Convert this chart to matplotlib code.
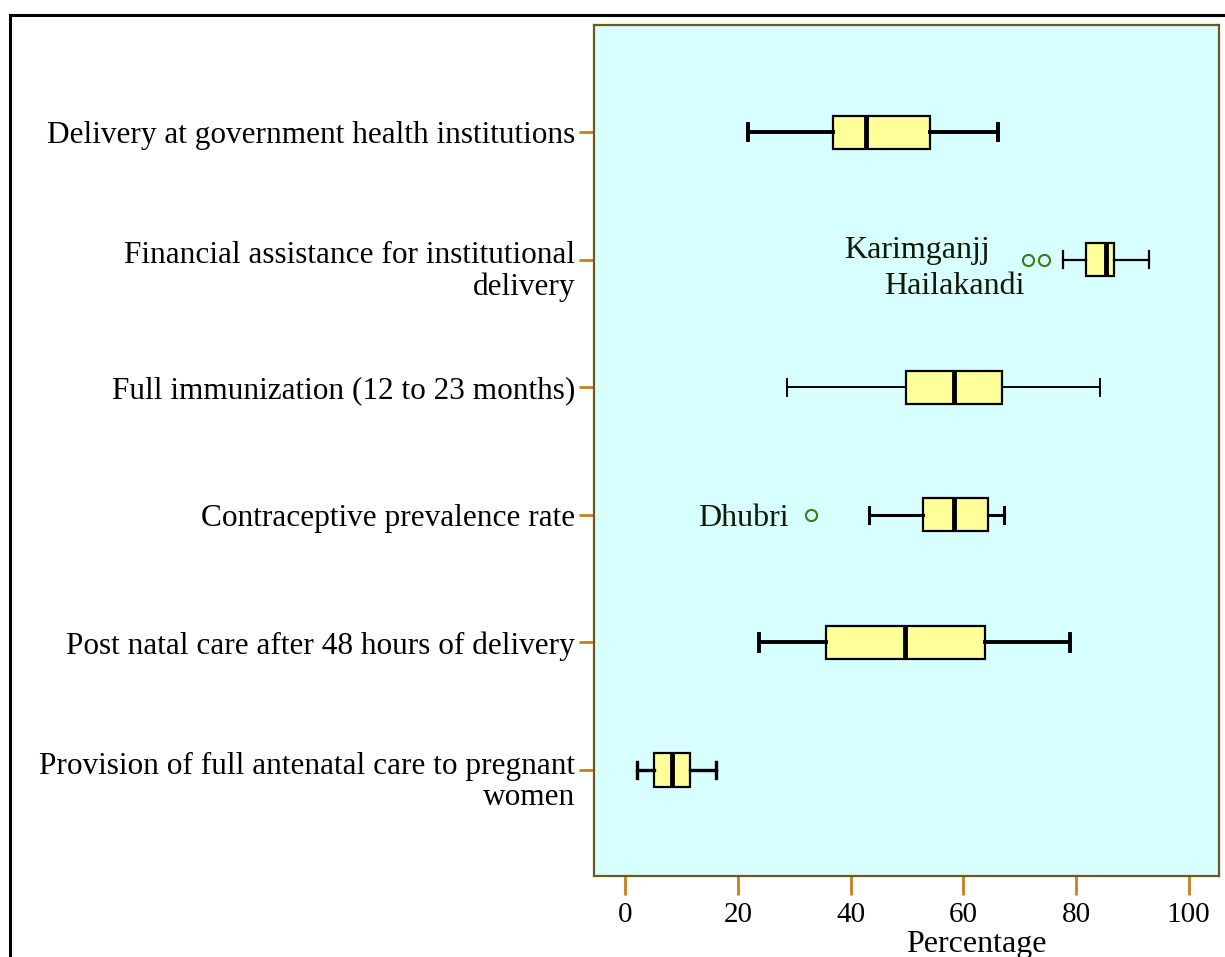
import numpy as np
import matplotlib
matplotlib.use("Agg")
import matplotlib.pyplot as plt
import matplotlib.transforms as mtransforms
from matplotlib.lines import Line2D

# ---- data (percent) ----
labels = ["Delivery at government health institutions",
          "Financial assistance for institutional\ndelivery",
          "Full immunization (12 to 23 months)",
          "Contraceptive prevalence rate",
          "Post natal care after 48 hours of delivery",
          "Provision of full antenatal care to pregnant\nwomen"]
whis_lo = [21.7, 77.7, 28.7, 43.3, 23.7, 2.1]
q1      = [36.9, 81.8, 49.9, 52.8, 35.6, 5.0]
med     = [42.8, 85.4, 58.3, 58.3, 49.7, 8.3]
q3      = [54.0, 86.7, 66.8, 64.3, 63.8, 11.4]
whis_hi = [66.2, 92.9, 84.3, 67.2, 79.0, 16.0]
fliers  = [[], [71.5, 74.4], [], [33.0], [], []]
whisker_lw = [2.8, 1.6, 1.4, 2.2, 2.8, 2.4]

outlier_names = ["Karimganjj", "Hailakandi", "Dhubri"]
outlier_x = [51.8, 58.4, 20.9]
outlier_y = [1.93, 2.21, 4.03]

serif = ["Liberation Serif", "DejaVu Serif"]
plt.rcParams['font.family'] = serif

fig = plt.figure(figsize=(12.25, 9.57), dpi=100)
ax = fig.add_axes([0.4853, 0.0847, 0.5098, 0.8892])
ax.set_facecolor("#d8ffff")

positions = np.arange(1, len(labels) + 1)
for i, pos in enumerate(positions):
    st = dict(whislo=whis_lo[i], q1=q1[i], med=med[i], q3=q3[i],
              whishi=whis_hi[i], fliers=fliers[i])
    ax.bxp([st], positions=[pos], vert=False, widths=0.26, capwidths=0.13,
           patch_artist=True, showfliers=True,
           boxprops=dict(facecolor="#ffff99", edgecolor="black", linewidth=1.6),
           medianprops=dict(color="black", linewidth=3.5),
           whiskerprops=dict(color="black", linewidth=whisker_lw[i]),
           capprops=dict(color="black", linewidth=whisker_lw[i]),
           flierprops=dict(marker="o", markerfacecolor="none",
                           markeredgecolor="#3a7a18", markersize=8,
                           markeredgewidth=1.5))

for name, x, y in zip(outlier_names, outlier_x, outlier_y):
    ax.text(x, y, name, ha="center", va="center", fontsize=23, color="#101808")

ax.set_xlim(-5.5, 105.4)
ax.set_ylim(6.83, 0.16)
ax.set_xticks([0, 20, 40, 60, 80, 100])
ax.set_yticks(positions)
ax.set_yticklabels(labels, fontsize=22.5, linespacing=1.1)
ax.tick_params(axis="x", labelsize=21, length=14, width=2, color="#c8801e", pad=5)
ax.tick_params(axis="y", length=11, width=2, color="#c8801e", pad=3)
# two-line labels sit with their first line at the tick
shift = mtransforms.ScaledTranslation(0, -7 / 100, fig.dpi_scale_trans)
for lab in ax.get_yticklabels():
    if "\n" in lab.get_text():
        lab.set_transform(lab.get_transform() + shift)
for s in ax.spines.values():
    s.set_color("#6a5a20")
    s.set_linewidth(1.6)

ax.set_xlabel("Percentage", fontsize=23, labelpad=2)
ax.xaxis.set_label_coords(0.611, -0.064)

# black frame of the original figure
fig.add_artist(Line2D([10/1225, 10/1225], [0, 1 - 15/957], color="black", lw=2.2,
                      transform=fig.transFigure))
fig.add_artist(Line2D([10/1225, 1], [1 - 15/957, 1 - 15/957], color="black", lw=2.2,
                      transform=fig.transFigure))

fig.savefig("out.png", dpi=100)
